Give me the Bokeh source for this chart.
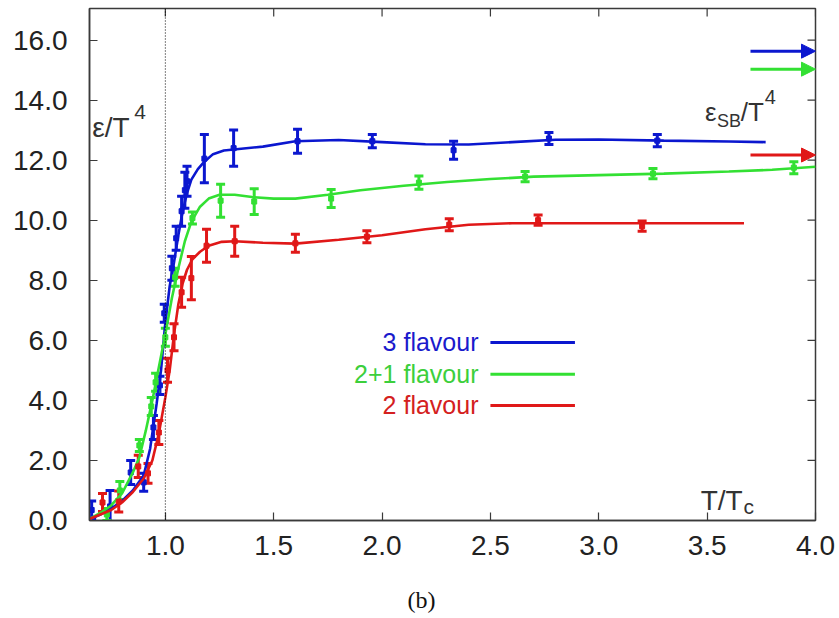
from bokeh.plotting import figure
from bokeh.models import (ColumnDataSource, Whisker, TeeHead, Label, Arrow, NormalHead,
                          Span, FixedTicker, NumeralTickFormatter, Range1d, Title)
from bokeh.embed import file_html
from bokeh.resources import INLINE

# ---------------- data ----------------
# 3 flavour lattice points
flav3_x = [0.66, 0.745, 0.84, 0.90, 0.945, 0.975, 0.995, 1.03, 1.05, 1.075, 1.09, 1.10, 1.18, 1.315, 1.61, 1.955, 2.33, 2.77, 3.27]
flav3_y = [0.35, 0.47, 1.6, 1.27, 3.1, 4.5, 6.9, 8.4, 9.4, 10.3, 11.0, 11.3, 12.05, 12.4, 12.63, 12.63, 12.33, 12.72, 12.65]
flav3_err = [0.3, 0.53, 0.4, 0.3, 0.4, 0.3, 0.3, 0.4, 0.4, 0.5, 0.6, 0.5, 0.8, 0.6, 0.4, 0.22, 0.3, 0.2, 0.2]

# 2+1 flavour lattice points
flav21_x = [0.73, 0.79, 0.88, 0.935, 0.955, 1.0, 1.045, 1.125, 1.255, 1.41, 1.765, 2.17, 2.66, 3.25, 3.9]
flav21_y = [0.2, 1.0, 2.5, 3.8, 4.6, 6.1, 8.1, 10.07, 10.65, 10.62, 10.72, 11.25, 11.45, 11.55, 11.75]
flav21_err = [0.2, 0.3, 0.2, 0.3, 0.3, 0.3, 0.3, 0.2, 0.55, 0.43, 0.3, 0.22, 0.17, 0.17, 0.2]

# 2 flavour lattice points
flav2_x = [0.71, 0.785, 0.875, 0.92, 0.97, 1.01, 1.04, 1.075, 1.12, 1.19, 1.32, 1.60, 1.93, 2.31, 2.72, 3.2]
flav2_y = [0.6, 0.63, 1.8, 1.57, 2.93, 5.0, 6.1, 7.6, 8.07, 9.15, 9.3, 9.23, 9.45, 9.85, 10.0, 9.8]
flav2_err = [0.3, 0.35, 0.37, 0.33, 0.4, 0.4, 0.45, 0.5, 0.72, 0.55, 0.5, 0.3, 0.2, 0.2, 0.17, 0.17]

# smooth fit curves
curve3_x = [0.65, 0.70, 0.75, 0.80, 0.85, 0.90, 0.93, 0.96, 0.98, 1.00, 1.02, 1.04, 1.06, 1.08, 1.10, 1.12, 1.15, 1.18,
            1.22, 1.27, 1.35, 1.45, 1.6, 1.8, 2.0, 2.2, 2.4, 2.6, 2.8, 3.0, 3.3, 3.6, 3.77]
curve3_y = [0.05, 0.2, 0.4, 0.65, 1.0, 1.5, 2.4, 3.9, 5.0, 6.6, 7.8, 8.6, 9.5, 10.3, 10.9, 11.35, 11.7, 11.95,
            12.2, 12.32, 12.38, 12.45, 12.63, 12.67, 12.6, 12.53, 12.52, 12.6, 12.68, 12.69, 12.65, 12.62, 12.6]

curve21_x = [0.65, 0.70, 0.75, 0.80, 0.85, 0.88, 0.91, 0.94, 0.97, 1.00, 1.03, 1.06, 1.09, 1.12, 1.16, 1.20, 1.25,
             1.32, 1.40, 1.5, 1.6, 1.75, 1.9, 2.1, 2.3, 2.5, 2.7, 3.0, 3.3, 3.6, 3.8, 4.0]
curve21_y = [0.05, 0.25, 0.5, 0.9, 1.6, 2.1, 3.0, 4.0, 5.1, 6.2, 7.4, 8.4, 9.3, 9.95, 10.45, 10.72, 10.85,
             10.85, 10.77, 10.72, 10.72, 10.85, 11.0, 11.15, 11.27, 11.37, 11.45, 11.5, 11.55, 11.62, 11.68, 11.78]

curve2_x = [0.65, 0.70, 0.75, 0.80, 0.85, 0.90, 0.94, 0.97, 1.00, 1.02, 1.04, 1.06, 1.08, 1.10, 1.125, 1.16, 1.2,
            1.26, 1.32, 1.45, 1.6, 1.8, 2.0, 2.2, 2.4, 2.6, 2.8, 3.0, 3.3, 3.67]
curve2_y = [0.05, 0.2, 0.35, 0.6, 0.95, 1.4, 2.0, 2.9, 4.1, 5.0, 6.2, 7.2, 7.9, 8.35, 8.7, 8.95, 9.15,
            9.28, 9.3, 9.25, 9.22, 9.35, 9.5, 9.7, 9.85, 9.9, 9.9, 9.9, 9.9, 9.9]

# Stefan-Boltzmann limits (arrows)
sb_values = [15.63, 15.03, 12.17]

series_names = ["3 flavour", "2+1 flavour", "2 flavour"]
x_ticks = [1.0, 1.5, 2.0, 2.5, 3.0, 3.5, 4.0]
y_ticks = [0, 2, 4, 6, 8, 10, 12, 14, 16]

# ---------------- styling / layout ----------------
BLUE = "#0b17cf"
GREEN = "#33e033"
RED = "#e01818"
TXT_BLUE = "#1a1acc"
TXT_GREEN = "#3ccf3c"
TXT_RED = "#d42020"
FONT = "Liberation Sans"
AX = "#3a3a3a"
X0, X1, Y0, Y1 = 0.65, 4.0, 0.0, 17.05
FW, FH = 726, 512
TICK_PX = 8

p = figure(width=839, height=618, frame_width=FW, frame_height=FH,
           x_range=Range1d(X0, X1), y_range=Range1d(Y0, Y1),
           output_backend="svg", toolbar_location=None,
           min_border_left=89, min_border_right=24, min_border_top=8, min_border_bottom=98)
p.grid.visible = False
p.outline_line_color = AX
p.outline_line_width = 1.5
p.background_fill_color = "white"
p.border_fill_color = "white"

for ax in (p.xaxis[0], p.yaxis[0]):
    ax.axis_line_color = AX
    ax.axis_line_width = 1.5
    ax.major_tick_in = TICK_PX
    ax.major_tick_out = 0
    ax.minor_tick_line_color = None
    ax.major_tick_line_color = AX
    ax.major_tick_line_width = 1.2
    ax.major_label_text_font = FONT
    ax.major_label_text_font_size = "28px"
    ax.major_label_text_color = "#222222"
    ax.formatter = NumeralTickFormatter(format="0.0")
p.xaxis[0].ticker = FixedTicker(ticks=x_ticks)
p.yaxis[0].ticker = FixedTicker(ticks=y_ticks)
p.xaxis[0].major_label_standoff = 15
p.yaxis[0].major_label_standoff = 22

# mirrored ticks on the top and right edges of the frame
dx = TICK_PX * (X1 - X0) / FW
dy = TICK_PX * (Y1 - Y0) / FH
p.segment(x0=x_ticks, y0=[Y1] * len(x_ticks), x1=x_ticks, y1=[Y1 - dy] * len(x_ticks),
          line_color=AX, line_width=1.2)
p.segment(x0=[X1] * len(y_ticks), y0=y_ticks, x1=[X1 - dx] * len(y_ticks), y1=y_ticks,
          line_color=AX, line_width=1.2)

# dotted line at T = Tc
p.add_layout(Span(location=1.0, dimension="height", line_color="black", line_width=1, line_dash="1 2"))

series = [
    (flav3_x, flav3_y, flav3_err, curve3_x, curve3_y, BLUE),
    (flav21_x, flav21_y, flav21_err, curve21_x, curve21_y, GREEN),
    (flav2_x, flav2_y, flav2_err, curve2_x, curve2_y, RED),
]
for xs, ys, es, cx, cy, col in series:
    p.line(cx, cy, line_color=col, line_width=2.6)
    src = ColumnDataSource(dict(x=xs, y=ys,
                                upper=[y + e for y, e in zip(ys, es)],
                                lower=[y - e for y, e in zip(ys, es)]))
    w = Whisker(source=src, base="x", upper="upper", lower="lower", dimension="height",
                line_color=col, line_width=3,
                upper_head=TeeHead(size=9, line_color=col, line_width=3),
                lower_head=TeeHead(size=9, line_color=col, line_width=3))
    p.add_layout(w)
    p.scatter(x="x", y="y", source=src, marker="square", size=5, color=col)

# SB arrows
for v, col in zip(sb_values, [BLUE, GREEN, RED]):
    p.add_layout(Arrow(x_start=3.70, y_start=v, x_end=4.0, y_end=v, line_color=col, line_width=3,
                       end=NormalHead(size=14, fill_color=col, line_color=col, line_width=1)))

# in-plot texts
def lab(x, y, t, size, color="#333333", align="left"):
    p.add_layout(Label(x=x, y=y, text=t, text_font=FONT, text_font_size=size, text_color=color,
                       text_align=align, text_baseline="alphabetic"))

lab(0.663, 13.1, "ε/T", "28px")
lab(0.857, 13.62, "4", "21px")

lab(3.49, 13.6, "ε", "26px")
lab(3.546, 13.3, "SB", "18px")
lab(3.655, 13.6, "/T", "26px")
lab(3.766, 14.1, "4", "20px")

lab(3.47, 0.67, "T/T", "28px")
lab(3.668, 0.45, "c", "21px")

# legend
leg_y = [5.93, 4.87, 3.83]
for name, y, col, tcol in zip(series_names, leg_y, [BLUE, GREEN, RED], [TXT_BLUE, TXT_GREEN, TXT_RED]):
    p.add_layout(Label(x=2.445, y=y, text=name, text_font=FONT, text_font_size="25px", text_color=tcol,
                       text_align="right", text_baseline="middle"))
    p.segment(x0=[2.50], y0=[y], x1=[2.89], y1=[y], line_color=col, line_width=3)

# caption below the axis
p.add_layout(Title(text="(b)", align="left", offset=318, standoff=54,
                   text_font="Liberation Serif", text_font_size="24px", text_font_style="normal",
                   text_color="#111111"), "below")

open("out.html", "w").write(file_html(p, INLINE))
